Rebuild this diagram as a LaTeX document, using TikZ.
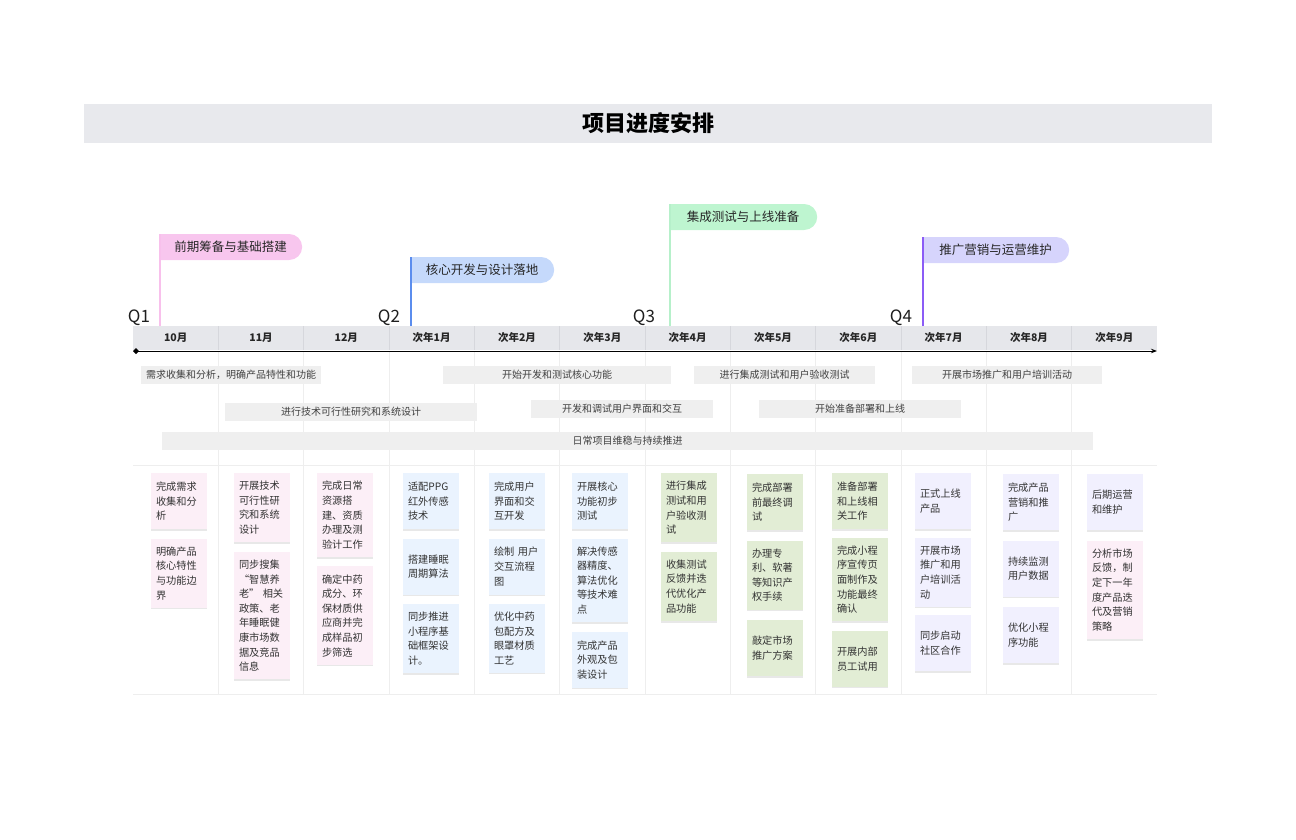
\documentclass[tikz,border=0pt]{standalone}
\usepackage{fontspec}
\setmainfont{Noto Sans CJK SC}
\usetikzlibrary{positioning,shapes.misc,shadows,arrows.meta}

\definecolor{titleband}{HTML}{E8E9ED}
\definecolor{headband}{HTML}{E6E7EB}
\definecolor{headline}{HTML}{D6D7DC}
\definecolor{gridline}{HTML}{EEEEEE}
\definecolor{barfill}{HTML}{EFEFEF}
\definecolor{pinkflag}{HTML}{F8C6EE}
\definecolor{pinkpole}{HTML}{F8C0EC}
\definecolor{blueflag}{HTML}{C5D9FB}
\definecolor{bluepole}{HTML}{5B8DEE}
\definecolor{greenflag}{HTML}{BEF5D0}
\definecolor{greenpole}{HTML}{B6F0CA}
\definecolor{purpleflag}{HTML}{D6D4FC}
\definecolor{purplepole}{HTML}{8B5CF6}
\definecolor{pinknote}{HTML}{FCEFF7}
\definecolor{bluenote}{HTML}{EAF3FE}
\definecolor{greennote}{HTML}{E2EDD5}
\definecolor{purplenote}{HTML}{F1F0FE}

\tikzset{
	flag/.style={rounded rectangle, rounded rectangle west arc=none, anchor=west,
		minimum height=26pt, inner xsep=0pt, font=\fontsize{12.5}{14}\selectfont, text=black!85},
	pole/.style={line width=1.2pt},
	bar/.style={anchor=west, fill=barfill, minimum height=18pt, inner sep=0pt,
		font=\fontsize{10}{11}\selectfont, text=black!75},
	note/.style={anchor=north, text width=46pt, inner xsep=5pt, inner ysep=8pt,
		minimum height=56pt, align=left, font=\fontsize{10.2}{14.6}\selectfont, text=black!80,
		drop shadow={opacity=0.18, shadow xshift=0pt, shadow yshift=-1.5pt}},
	month/.style={font=\bfseries\fontsize{10.5}{12}\selectfont, text=black!85},
	qlabel/.style={anchor=base, font=\fontsize{17}{18}\selectfont, text=black!88},
}

\begin{document}
\begin{tikzpicture}[x=1pt,y=-1pt]
		\useasboundingbox (0,0) rectangle (1296,840);
		\node[fill=titleband, minimum width=1128pt, minimum height=39pt, font=\bfseries\fontsize{22}{24}\selectfont] (title) at (648,123.5) {项目进度安排};

		% month header and grid
		\fill[headband] (133,326) rectangle (1157,350);
		\foreach \i in {1,...,11} {
			\draw[headline] ({133+85.333*\i},326) -- ({133+85.333*\i},350);
			\draw[gridline] ({133+85.333*\i},352) -- ({133+85.333*\i},694);
		}
		\draw[gridline] (133,465) -- (1157,465);
		\draw[gridline] (133,694) -- (1157,694);
		\foreach \m [count=\i] in {10月,11月,12月,次年1月,次年2月,次年3月,次年4月,次年5月,次年6月,次年7月,次年8月,次年9月}
			\node[month] (m\i) at ({133+85.333*(\i-0.5)},338) {\m};

		\coordinate (A) at (133,351);
		\coordinate (B) at (1157,351);
		\draw[line width=1pt, {Diamond[length=6pt,width=6pt]}-{Stealth[length=6pt,width=4.5pt]}] (A) -- (B);

		\node[qlabel] (q1) at (139,322) {Q1};
		\node[qlabel] (q2) at (389,322) {Q2};
		\node[qlabel] (q3) at (644,322) {Q3};
		\node[qlabel] (q4) at (901,322) {Q4};

		% phase flags
		\node[flag, fill=pinkflag, minimum width=142pt] (p1) at (160,247) {前期筹备与基础搭建};
		\node[flag, fill=blueflag, minimum width=143pt] (p2) at (411,270) {核心开发与设计落地};
		\node[flag, fill=greenflag, minimum width=147pt] (p3) at (670,217) {集成测试与上线准备};
		\node[flag, fill=purpleflag, minimum width=146pt] (p4) at (923,250) {推广营销与运营维护};
		\coordinate (t1) at (160,326);
		\coordinate (t2) at (411,326);
		\coordinate (t3) at (670,326);
		\coordinate (t4) at (923,326);
		\draw[pole, pinkpole] (t1) -- (t1 |- p1.north);
		\draw[pole, bluepole] (t2) -- (t2 |- p2.north);
		\draw[pole, greenpole] (t3) -- (t3 |- p3.north);
		\draw[pole, purplepole] (t4) -- (t4 |- p4.north);

		% task bars
		\node[bar, minimum width=180pt] (b1) at (141,375) {需求收集和分析，明确产品特性和功能};
		\node[bar, minimum width=228pt] (b2) at (443,375) {开始开发和测试核心功能};
		\node[bar, minimum width=181pt] (b3) at (694,375) {进行集成测试和用户验收测试};
		\node[bar, minimum width=190pt] (b4) at (912,375) {开展市场推广和用户培训活动};
		\node[bar, minimum width=252pt] (b5) at (225,412) {进行技术可行性研究和系统设计};
		\node[bar, minimum width=182pt] (b6) at (531,409) {开发和调试用户界面和交互};
		\node[bar, minimum width=202pt] (b7) at (759,409) {开始准备部署和上线};
		\node[bar, minimum width=931pt] (b8) at (162,441) {日常项目维稳与持续推进};

		% notes
		\node[note, fill=pinknote] (n11) at (179,473) {完成需求\\收集和分\\析};
		\node[note, fill=pinknote, below=9pt of n11] (n12) {明确产品\\核心特性\\与功能边\\界};
		\node[note, fill=pinknote] (n21) at (262,473) {开展技术\\可行性研\\究和系统\\设计};
		\node[note, fill=pinknote, below=9pt of n21] (n22) {同步搜集\\“智慧养\\老” 相关\\政策、老\\年睡眠健\\康市场数\\据及竞品\\信息};
		\node[note, fill=pinknote] (n31) at (345,473) {完成日常\\资源搭\\建、资质\\办理及测\\验计工作};
		\node[note, fill=pinknote, below=9pt of n31] (n32) {确定中药\\成分、环\\保材质供\\应商并完\\成样品初\\步筛选};

		\node[note, fill=bluenote] (n41) at (431,473) {适配PPG\\红外传感\\技术};
		\node[note, fill=bluenote, below=9pt of n41] (n42) {搭建睡眠\\周期算法};
		\node[note, fill=bluenote, below=9pt of n42] (n43) {同步推进\\小程序基\\础框架设\\计。};
		\node[note, fill=bluenote] (n51) at (517,473) {完成用户\\界面和交\\互开发};
		\node[note, fill=bluenote, below=9pt of n51] (n52) {绘制 用户\\交互流程\\图};
		\node[note, fill=bluenote, below=9pt of n52] (n53) {优化中药\\包配方及\\眼罩材质\\工艺};
		\node[note, fill=bluenote] (n61) at (600,473) {开展核心\\功能初步\\测试};
		\node[note, fill=bluenote, below=9pt of n61] (n62) {解决传感\\器精度、\\算法优化\\等技术难\\点};
		\node[note, fill=bluenote, below=9pt of n62] (n63) {完成产品\\外观及包\\装设计};

		\node[note, fill=greennote] (n71) at (689,473) {进行集成\\测试和用\\户验收测\\试};
		\node[note, fill=greennote, below=9pt of n71] (n72) {收集测试\\反馈并迭\\代优化产\\品功能};
		\node[note, fill=greennote] (n81) at (775,474) {完成部署\\前最终调\\试};
		\node[note, fill=greennote, below=10pt of n81] (n82) {办理专\\利、软著\\等知识产\\权手续};
		\node[note, fill=greennote, below=10pt of n82] (n83) {敲定市场\\推广方案};
		\node[note, fill=greennote] (n91) at (860,473) {准备部署\\和上线相\\关工作};
		\node[note, fill=greennote, below=8pt of n91] (n92) {完成小程\\序宣传页\\面制作及\\功能最终\\确认};
		\node[note, fill=greennote, below=9pt of n92] (n93) {开展内部\\员工试用};

		\node[note, fill=purplenote] (n101) at (943,473) {正式上线\\产品};
		\node[note, fill=purplenote, below=8pt of n101] (n102) {开展市场\\推广和用\\户培训活\\动};
		\node[note, fill=purplenote, below=8pt of n102] (n103) {同步启动\\社区合作};
		\node[note, fill=purplenote] (n111) at (1031,474) {完成产品\\营销和推\\广};
		\node[note, fill=purplenote, below=10pt of n111] (n112) {持续监测\\用户数据};
		\node[note, fill=purplenote, below=10pt of n112] (n113) {优化小程\\序功能};
		\node[note, fill=purplenote] (n121) at (1115,474) {后期运营\\和维护};
		\node[note, fill=pinknote, below=10pt of n121] (n122) {分析市场\\反馈，制\\定下一年\\度产品迭\\代及营销\\策略};
\end{tikzpicture}
\end{document}
